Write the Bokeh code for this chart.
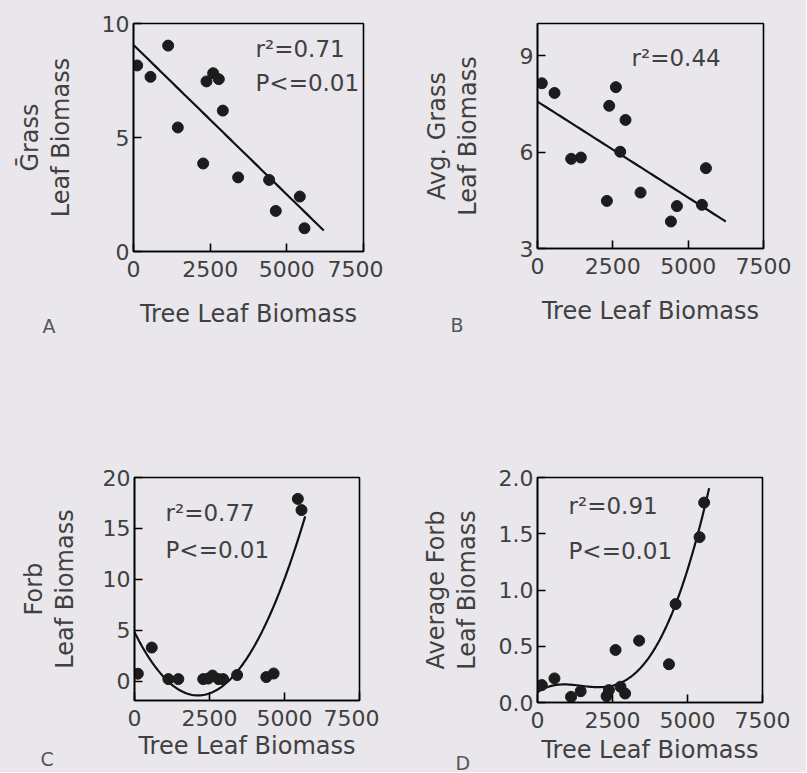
import numpy as np
from bokeh.plotting import figure
from bokeh.models import Range1d, FixedTicker, Label, Title
from bokeh.layouts import column, row
from bokeh.embed import file_html
from bokeh.resources import INLINE

# ---------------- data ----------------
x_ticks = [0, 2500, 5000, 7500]

tree_A = [120, 554, 1130, 1445, 2272, 2380, 2597, 2782, 2912, 3412, 4423, 4640, 5423, 5575]
grass_A = [8.16, 7.66, 9.03, 5.44, 3.86, 7.46, 7.82, 7.56, 6.18, 3.25, 3.14, 1.78, 2.41, 1.02]
fit_A = [9.06, -0.001312]          # intercept, slope
fit_A_xmax = 6205

tree_B = [144, 565, 1118, 1439, 2303, 2380, 2602, 2745, 2921, 3420, 4427, 4627, 5457, 5590]
grass_B = [8.14, 7.84, 5.79, 5.83, 4.48, 7.44, 8.02, 6.01, 7.00, 4.74, 3.84, 4.32, 4.36, 5.50]
fit_B = [7.57, -0.000597]
fit_B_xmax = 6250

tree_C = [111, 575, 1129, 1461, 2291, 2457, 2600, 2800, 2955, 3420, 4393, 4637, 5445, 5567]
forb_C = [0.73, 3.3, 0.2, 0.2, 0.2, 0.25, 0.55, 0.2, 0.2, 0.6, 0.4, 0.75, 17.9, 16.8]
fit_C = [4.8, -5.851e-3, 1.38e-6]  # c0, c1, c2 (x in raw units)
fit_C_xmax = 5689

tree_D = [144, 565, 1118, 1439, 2303, 2380, 2602, 2767, 2921, 3387, 4382, 4604, 5401, 5555]
forb_D = [0.155, 0.214, 0.05, 0.10, 0.056, 0.11, 0.467, 0.14, 0.08, 0.55, 0.34, 0.875, 1.47, 1.777]
fit_D = [0.09, 0.190633, -0.161083, 0.042236, -0.0017856]  # in x/1000
fit_D_xmax = 5722

# ---------------- styling ----------------
BG = "#e9e7ec"
FONT = "DejaVu Sans"
TXT = "#404040"


def panel(xs, ys, curve_x, curve_y, yr, yticks, ylabels, ylab, stats, letter,
          fw, fh, bl, br, bt, bb, ylab_standoff, xlab_standoff):
    p = figure(frame_width=fw, frame_height=fh,
               min_border_left=bl, min_border_right=br,
               min_border_top=bt, min_border_bottom=bb,
               x_range=Range1d(0, 7500), y_range=Range1d(*yr),
               output_backend="svg", toolbar_location=None, tools="")
    p.background_fill_color = BG
    p.border_fill_color = BG
    p.outline_line_color = "black"
    p.outline_line_width = 1.6
    p.grid.visible = False
    for ax in (p.xaxis, p.yaxis):
        ax.axis_line_color = "black"
        ax.axis_line_width = 1.6
        ax.major_tick_in = 8
        ax.major_tick_out = 0
        ax.major_tick_line_color = "black"
        ax.major_tick_line_width = 1.6
        ax.minor_tick_line_color = None
        ax.major_label_text_font = FONT
        ax.major_label_text_font_size = "22px"
        ax.major_label_text_color = TXT
        ax.axis_label_text_font = FONT
        ax.axis_label_text_font_size = "24px"
        ax.axis_label_text_font_style = "normal"
        ax.axis_label_text_color = TXT
    p.xaxis.ticker = FixedTicker(ticks=x_ticks)
    p.yaxis.ticker = FixedTicker(ticks=yticks)
    p.yaxis.major_label_overrides = {t: l for t, l in zip(yticks, ylabels)}
    p.xaxis.major_label_standoff = 9
    p.yaxis.major_label_standoff = 4
    p.xaxis.axis_label = "Tree Leaf Biomass"
    p.yaxis.axis_label = ylab
    p.yaxis.axis_label_text_line_height = 1.1
    p.yaxis.axis_label_standoff = ylab_standoff
    p.xaxis.axis_label_standoff = xlab_standoff

    p.line(curve_x, curve_y, line_color="#111111", line_width=2.2)
    p.scatter(xs, ys, size=11, fill_color="#1c1c1c", line_color="#1c1c1c")

    for (sx, sy, txt) in stats:
        p.add_layout(Label(x=sx, y=sy, text=txt, text_font=FONT, text_font_size="23px",
                           text_color=TXT, text_baseline="middle", text_align="left"))
    offset, standoff, text = letter
    p.add_layout(Title(text=text, align="left", vertical_align="top",
                       offset=offset, standoff=standoff,
                       text_font=FONT, text_font_size="19px", text_font_style="normal",
                       text_color="#555555"), "below")
    return p


xa = np.linspace(0, fit_A_xmax, 50)
ya = fit_A[0] + fit_A[1] * xa
pA = panel(tree_A, grass_A, xa, ya, (0, 10), [0, 5, 10], ["0", "5", "10"],
           "Ḡrass\nLeaf Biomass",
           [(3978, 8.86, "r²=0.71"), (3978, 7.37, "P<=0.01")],
           (-91, -31, "A"),
           230, 228, 133, 20, 22, 110, 24, 20)

xb = np.linspace(0, fit_B_xmax, 50)
yb = fit_B[0] + fit_B[1] * xb
pB = panel(tree_B, grass_B, xb, yb, (3, 10), [3, 6, 9], ["3", "6", "9"],
           "Avg. Grass\nLeaf Biomass",
           [(3119, 8.92, "r²=0.44")],
           (-87, -27, "B"),
           226, 225, 154, 43, 23, 112, 35, 20)

xc = np.linspace(0, fit_C_xmax, 120)
yc = fit_C[0] + fit_C[1] * xc + fit_C[2] * xc ** 2
pC = panel(tree_C, forb_C, xc, yc, (-1.9, 20), [0, 5, 10, 15, 20],
           ["0", "5", "10", "15", "20"],
           "Forb\nLeaf Biomass",
           [(1033, 16.5, "r²=0.77"), (1033, 12.9, "P<=0.01")],
           (-94, -29, "C"),
           225, 223, 134, 20, 116, 73, 21, 3)

xd = np.linspace(0, fit_D_xmax, 160)
td = xd / 1000.0
yd = sum(c * td ** i for i, c in enumerate(fit_D))
pD = panel(tree_D, forb_D, xd, yd, (0, 2), [0, 0.5, 1, 1.5, 2],
           ["0.0", "0.5", "1.0", "1.5", "2.0"],
           "Average Forb\nLeaf Biomass",
           [(1033, 1.75, "r²=0.91"), (1033, 1.35, "P<=0.01")],
           (-82, -30, "D"),
           225, 225, 158, 44, 117, 70, 15, 5)

layout = column(row(pA, pB), row(pC, pD))
layout.styles = {"background-color": BG}

open("out.html", "w").write(file_html(layout, INLINE))
